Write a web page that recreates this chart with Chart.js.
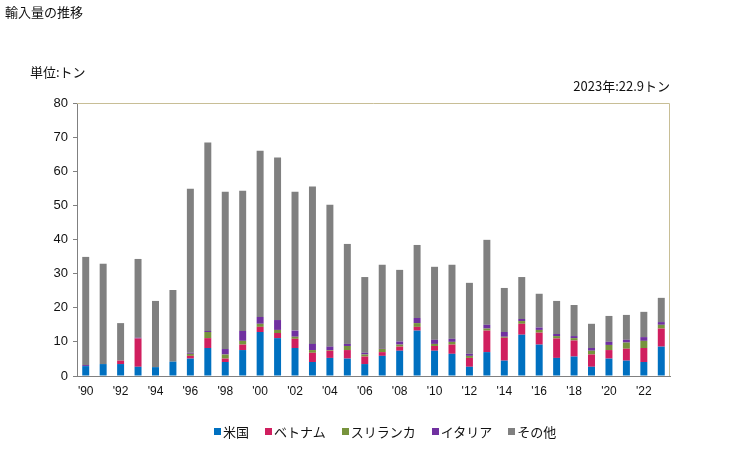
<!DOCTYPE html>
<html>
<head>
<meta charset="utf-8">
<script src="https://cdn.jsdelivr.net/npm/chart.js@4"></script>
<style>
body { margin: 0; background: #fff; font-family: "Noto Sans CJK JP", "Liberation Sans", sans-serif; }
#wrap { position: relative; width: 729px; height: 450px; }
canvas { position: absolute; left: 0; top: 0; }
.txt { position: absolute; font-size: 13px; color: #111; white-space: nowrap; line-height: 1; }
#legend { position: absolute; left: 214px; top: 425px; display: flex; font-size: 13px; color: #111; line-height: 1; }
#legend span.item { display: flex; align-items: center; margin-right: 16px; }
#legend i { display: inline-block; width: 7px; height: 7px; margin-right: 2px; }
</style>
</head>
<body>
<div id="wrap">
  <canvas id="myChart" width="729" height="450"></canvas>
  <div class="txt" style="left:5px; top:5px;">輸入量の推移</div>
  <div class="txt" style="left:30px; top:65px;">単位:トン</div>
  <div class="txt" style="right:59px; top:79px;">2023年:22.9トン</div>
  <div id="legend"></div>
</div>
<script>
// DATA SECTION
var years = ["1990","1991","1992","1993","1994","1995","1996","1997","1998","1999","2000","2001","2002","2003","2004","2005","2006","2007","2008","2009","2010","2011","2012","2013","2014","2015","2016","2017","2018","2019","2020","2021","2022","2023"];
var tickLabels = ["'90","","'92","","'94","","'96","","'98","","'00","","'02","","'04","","'06","","'08","","'10","","'12","","'14","","'16","","'18","","'20","","'22",""];
var yTicks = [0, 10, 20, 30, 40, 50, 60, 70, 80];

var usa      = [2.9,3.5,3.5,2.7,2.6,4.2,5.1,8.2,4.1,7.6,12.9,11.1,8.2,4.1,5.3,5.1,3.5,5.9,7.4,13.3,7.4,6.5,2.7,7.0,4.5,12.1,9.2,5.3,5.7,2.7,5.1,4.5,4.1,8.6];
var vietnam  = [0,0,1.0,8.3,0,0,0.8,2.9,1.0,1.6,1.5,1.5,2.7,2.7,2.1,2.5,2.2,1.1,1.2,1.1,1.4,2.7,2.6,6.3,6.7,3.2,3.5,5.7,4.7,3.6,2.5,3.5,4.1,5.3];
var srilanka = [0,0,0,0,0,0,0.6,1.8,1.2,1.1,0.9,0.9,0.6,0.8,0.2,1.2,0.6,1.0,0.6,1.1,0.6,0.8,0.6,0.6,0.3,0.8,0.8,0.7,0.7,1.1,1.5,1.8,2.1,1.1];
var italy    = [0.3,0,0,0.2,0,0,0.3,0.3,1.6,2.9,2.0,2.9,1.8,1.8,1.0,0.6,0.5,0.2,0.9,1.5,1.2,0.9,0.6,1.1,1.4,0.6,0.7,0.6,0.6,0.8,0.9,0.8,1.1,0.8];
var other    = [31.7,29.4,11.0,23.1,19.4,21.0,48.1,55.2,46.1,41.1,48.7,47.6,40.7,46.1,41.6,29.3,22.2,24.4,21.0,21.4,21.4,21.7,20.8,24.9,12.9,12.3,9.9,9.7,9.1,7.1,7.6,7.3,7.4,7.1];

var series = [
    { label: "米国", data: usa, color: "#0070C0" },
    { label: "ベトナム", data: vietnam, color: "#D01F5F" },
    { label: "スリランカ", data: srilanka, color: "#77933C" },
    { label: "イタリア", data: italy, color: "#7030A0" },
    { label: "その他", data: other, color: "#808080" }
];

// legend (html)
var legend = document.getElementById("legend");
series.forEach(function(s) {
    var item = document.createElement("span");
    item.className = "item";
    item.innerHTML = '<i style="background:' + s.color + '"></i>' + s.label;
    legend.appendChild(item);
});

// frame on top / right of plot area
var framePlugin = {
    id: "frame",
    afterDraw: function(chart) {
        var a = chart.chartArea, c = chart.ctx;
        c.save();
        c.strokeStyle = "#C8BE96";
        c.lineWidth = 1;
        c.beginPath();
        c.moveTo(a.left, a.top + 0.5);
        c.lineTo(a.right - 0.5, a.top + 0.5);
        c.lineTo(a.right - 0.5, a.bottom);
        c.stroke();
        c.restore();
    }
};

// CHART SECTION
var ctx = document.getElementById("myChart").getContext("2d");
var chart = new Chart(ctx, {
    type: "bar",
    data: {
        labels: years,
        datasets: series.map(function(s) {
            return {
                label: s.label,
                data: s.data,
                backgroundColor: s.color,
                borderWidth: 0,
                barPercentage: 0.4,
                categoryPercentage: 1.0
            };
        })
    },
    options: {
        responsive: false,
        animation: false,
        layout: { padding: { left: 0, top: 103, right: 59, bottom: 44 } },
        plugins: { legend: { display: false }, tooltip: { enabled: false } },
        scales: {
            x: {
                stacked: true,
                grid: { display: false, drawTicks: false },
                border: { color: "#808080", width: 1 },
                ticks: {
                    autoSkip: false,
                    maxRotation: 0,
                    padding: 8,
                    color: "#111",
                    font: { family: "Liberation Sans", size: 12 },
                    callback: function(v, i) { return tickLabels[i]; }
                },
                afterFit: function(scale) { scale.height = 30; }
            },
            y: {
                stacked: true,
                min: 0,
                max: 80,
                afterBuildTicks: function(scale) {
                    scale.ticks = yTicks.map(function(v) { return { value: v }; });
                },
                grid: { drawOnChartArea: false, drawTicks: true, tickLength: 4, color: "#808080" },
                border: { color: "#808080", width: 1 },
                ticks: {
                    padding: 5,
                    color: "#111",
                    font: { family: "Liberation Sans", size: 13 }
                },
                afterFit: function(scale) { scale.width = 77; }
            }
        }
    },
    plugins: [framePlugin]
});
</script>
</body>
</html>
